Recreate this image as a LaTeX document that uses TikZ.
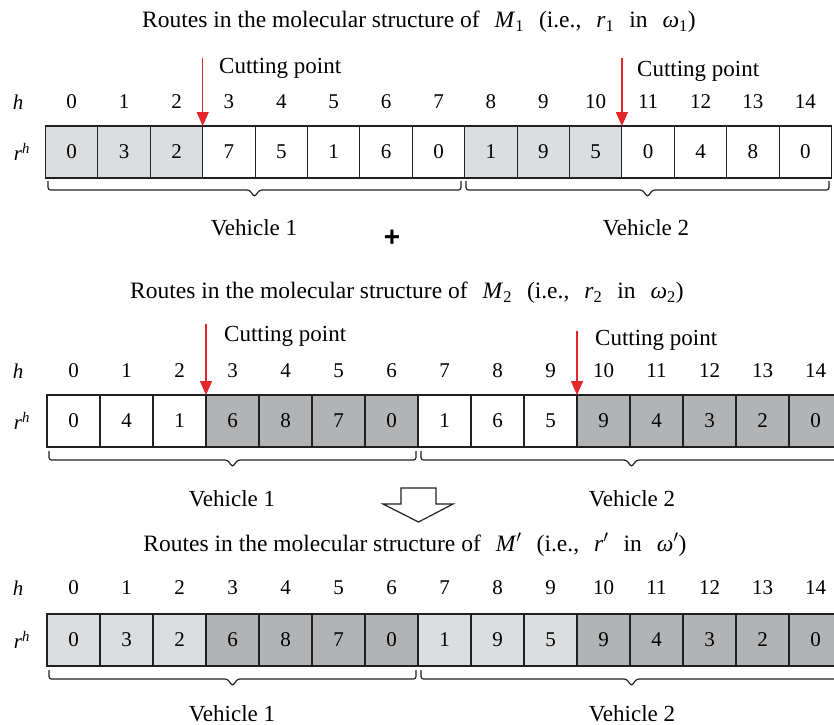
\documentclass[tikz,border=0pt]{standalone}
\usepackage{fontspec}
\setmainfont{Liberation Serif}
\setsansfont{Liberation Sans}
\usetikzlibrary{arrows.meta}
\definecolor{lineC}{HTML}{231F20}
\definecolor{lightG}{HTML}{DCDDDE}
\definecolor{darkG}{HTML}{B2B3B5}
\definecolor{cutRed}{HTML}{E3262A}
\newcommand\cellfont{\fontsize{21}{25}\selectfont}
\newcommand\titlefont{\fontsize{23.5}{28}\selectfont}
\newcommand\labfont{\fontsize{23}{27}\selectfont}
\newcommand\sub[1]{\textsubscript{#1}}
\newcommand\gap{\hspace{15pt}}
\newcommand\hbrace[3]{%
  \draw[bracestyle] (#1,#3) -- (#1,#3+9) -- ({(#1+#2)/2-5},#3+9) -- ({(#1+#2)/2},#3+16) -- ({(#1+#2)/2+5},#3+9) -- (#2,#3+9) -- (#2,#3);}
\begin{document}
\begin{tikzpicture}[x=1pt,y=-1pt,
  cell/.style={draw=lineC, line width=1.1pt, minimum height=52pt, inner sep=0pt, outer sep=0pt, font=\cellfont},
  hlab/.style={font=\cellfont, inner sep=0pt},
  lab/.style={font=\labfont, inner sep=0pt},
  ttl/.style={font=\titlefont, inner sep=0pt},
  cutarrow/.style={draw=cutRed, line width=1.4pt, -{Triangle[length=14pt,width=12pt]}, cutRed},
  outer/.style={draw=lineC, line width=1.8pt},
  bracestyle/.style={draw=lineC, line width=1.2pt, rounded corners=2.5pt},
  hollow/.style={draw=lineC, line width=1.2pt, fill=white, line join=miter}]
\useasboundingbox (0,0) rectangle (834,724);
\clip (0,0) rectangle (834,724);

% ---------- Array 1 ----------
\node[ttl] (t1) at (419,22) {Routes in the molecular structure of\gap\textit{M}\sub{1}\gap(i.e.,\gap\textit{r}\sub{1}\gap in\gap\textit{ω}\sub{1})};
\node[hlab] (h1) at (18,102) {\textit{h}};
\node[hlab] (r1) at (22,152) {\textit{r}\textsuperscript{\textit{h}}};
\foreach \v/\f [count=\i from 0] in {0/lightG,3/lightG,2/lightG,7/white,5/white,1/white,6/white,0/white,1/lightG,9/lightG,5/lightG,0/white,4/white,8/white,0/white}{
  \node[cell, minimum width=52.4pt, fill=\f] (a\i) at ({45.5+52.4*(\i+0.5)},152) {\v};
  \node[hlab] (ah\i) at ({45.5+52.4*(\i+0.5)},102) {\i};
}
\draw[outer] (a0.north west) rectangle (a14.south east);
\draw[cutarrow] ([yshift=68pt]a2.north east) -- (a2.north east);
\draw[cutarrow] ([yshift=68pt]a10.north east) -- (a10.north east);
\node[lab, anchor=west] (c11) at (219,68) {Cutting point};
\node[lab, anchor=west] (c12) at (637,71) {Cutting point};
\hbrace{48}{461}{181}
\hbrace{466}{829}{181}
\node[lab] (v11) at (254,228) {Vehicle 1};
\node[lab] (v12) at (646,228) {Vehicle 2};
\node[font=\fontsize{28}{30}\selectfont\sffamily\bfseries, inner sep=0pt] (plus) at (392,238) {+};

% ---------- Array 2 ----------
\node[ttl] (t2) at (407,293) {Routes in the molecular structure of\gap\textit{M}\sub{2}\gap(i.e.,\gap\textit{r}\sub{2}\gap in\gap\textit{ω}\sub{2})};
\node[hlab] (h2) at (18,371) {\textit{h}};
\node[hlab] (r2) at (22,421) {\textit{r}\textsuperscript{\textit{h}}};
\foreach \v/\f [count=\i from 0] in {0/white,4/white,1/white,6/darkG,8/darkG,7/darkG,0/darkG,1/white,6/white,5/white,9/darkG,4/darkG,3/darkG,2/darkG,0/darkG}{
  \node[cell, minimum width=53pt, fill=\f] (b\i) at ({47+53*(\i+0.5)},421) {\v};
  \node[hlab] (bh\i) at ({47+53*(\i+0.5)},371) {\i};
}
\draw[outer] (b0.north west) rectangle (b14.south east);
\draw[cutarrow] ([yshift=71pt]b2.north east) -- (b2.north east);
\draw[cutarrow] ([yshift=64pt]b9.north east) -- (b9.north east);
\node[lab, anchor=west] (c21) at (224,336) {Cutting point};
\node[lab, anchor=west] (c22) at (595,340) {Cutting point};
\hbrace{49}{416}{451}
\hbrace{421}{842}{451}
\node[lab] (v21) at (232,499) {Vehicle 1};
\node[lab] (v22) at (632,499) {Vehicle 2};

\draw[hollow] (401,488) -- (436,488) -- (436,504) -- (453,504) -- (418.5,522) -- (383,504) -- (401,504) -- cycle;

% ---------- Array 3 ----------
\node[ttl] (t3) at (415,545) {Routes in the molecular structure of\gap\textit{M}$'$\gap(i.e.,\gap\textit{r}$'$\gap in\gap\textit{ω}$'$)};
\node[hlab] (h3) at (18,588) {\textit{h}};
\node[hlab] (r3) at (22,640) {\textit{r}\textsuperscript{\textit{h}}};
\foreach \v/\f [count=\i from 0] in {0/lightG,3/lightG,2/lightG,6/darkG,8/darkG,7/darkG,0/darkG,1/lightG,9/lightG,5/lightG,9/darkG,4/darkG,3/darkG,2/darkG,0/darkG}{
  \node[cell, minimum width=53pt, fill=\f] (c\i) at ({47+53*(\i+0.5)},640) {\v};
  \node[hlab] (ch\i) at ({47+53*(\i+0.5)},588) {\i};
}
\draw[outer] (c0.north west) rectangle (c14.south east);
\hbrace{49}{416}{670}
\hbrace{421}{842}{670}
\node[lab] (v31) at (232,714) {Vehicle 1};
\node[lab] (v32) at (632,714) {Vehicle 2};
\end{tikzpicture}
\end{document}
